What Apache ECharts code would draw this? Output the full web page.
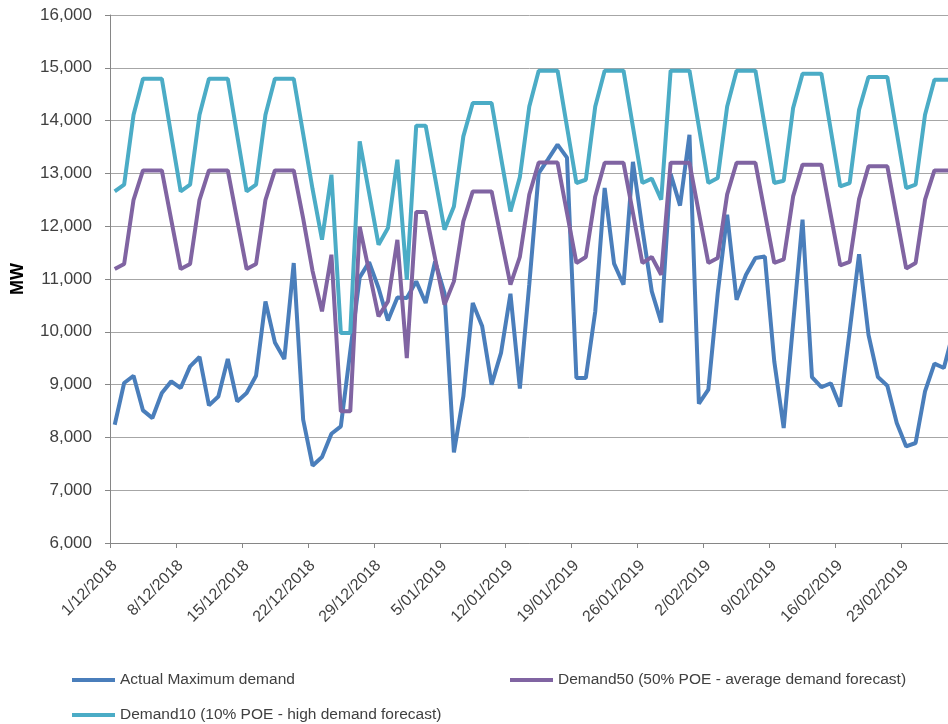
<!DOCTYPE html>
<html>
<head>
<meta charset="utf-8">
<script src="https://cdn.jsdelivr.net/npm/echarts@6/dist/echarts.min.js"></script>
<style>
  html, body { margin: 0; padding: 0; background: #ffffff; }
  #chart { width: 948px; height: 724px; }
</style>
</head>
<body>
<div id="chart"></div>
<script>
const categories = [
  "1/12/2018","2/12/2018","3/12/2018","4/12/2018","5/12/2018","6/12/2018","7/12/2018","8/12/2018","9/12/2018","10/12/2018",
  "11/12/2018","12/12/2018","13/12/2018","14/12/2018","15/12/2018","16/12/2018","17/12/2018","18/12/2018","19/12/2018","20/12/2018",
  "21/12/2018","22/12/2018","23/12/2018","24/12/2018","25/12/2018","26/12/2018","27/12/2018","28/12/2018","29/12/2018","30/12/2018",
  "31/12/2018","1/01/2019","2/01/2019","3/01/2019","4/01/2019","5/01/2019","6/01/2019","7/01/2019","8/01/2019","9/01/2019",
  "10/01/2019","11/01/2019","12/01/2019","13/01/2019","14/01/2019","15/01/2019","16/01/2019","17/01/2019","18/01/2019","19/01/2019",
  "20/01/2019","21/01/2019","22/01/2019","23/01/2019","24/01/2019","25/01/2019","26/01/2019","27/01/2019","28/01/2019","29/01/2019",
  "30/01/2019","31/01/2019","1/02/2019","2/02/2019","3/02/2019","4/02/2019","5/02/2019","6/02/2019","7/02/2019","8/02/2019",
  "9/02/2019","10/02/2019","11/02/2019","12/02/2019","13/02/2019","14/02/2019","15/02/2019","16/02/2019","17/02/2019","18/02/2019",
  "19/02/2019","20/02/2019","21/02/2019","22/02/2019","23/02/2019","24/02/2019","25/02/2019","26/02/2019","27/02/2019","28/02/2019"
];

const actualMaxDemand = [
  8240, 9030, 9168, 8511, 8366, 8840, 9061, 8935, 9345, 9523,
  8606, 8776, 9485, 8682, 8840, 9168, 10576, 9799, 9485, 11303,
  8335, 7464, 7629, 8070, 8209, 9630, 11030, 11320, 10830, 10216,
  10651, 10640, 10955, 10545, 11333, 10735, 7716, 8776, 10545, 10103,
  9000, 9600, 10720, 8925, 10900, 13007, 13272, 13544, 13300, 9125,
  9125, 10386, 12723, 11290, 10892, 13220, 11950, 10766, 10178, 12990,
  12390, 13733, 8638, 8903, 10735, 12218, 10608, 11081, 11398, 11425,
  9440, 8178, 10150, 12123, 9140, 8950, 9025, 8587, 10008, 11470,
  9945, 9144, 8979, 8272, 7829, 7894, 8871, 9396, 9314, 10000
];

const demand50 = [
  11189, 11284, 12500, 13057, 13057, 13057, 12120, 11189, 11284, 12500,
  13057, 13057, 13057, 12120, 11189, 11284, 12500, 13057, 13057, 13057,
  12150, 11150, 10386, 11460, 8493, 8493, 11990, 11140, 10292, 10576,
  11742, 9503, 12269, 12269, 11391, 10513, 10955, 12091, 12659, 12659,
  12659, 11775, 10892, 11420, 12600, 13205, 13205, 13205, 12252, 11304,
  11417, 12564, 13201, 13201, 13201, 12252, 11304, 11417, 11081, 13201,
  13201, 13201, 12252, 11304, 11398, 12602, 13201, 13201, 13201, 12252,
  11304, 11370, 12564, 13165, 13165, 13165, 12211, 11258, 11325, 12515,
  13134, 13134, 13134, 12166, 11199, 11304, 12502, 13057, 13057, 13057
];

const demand10 = [
  12659, 12786, 14110, 14792, 14792, 14792, 13720, 12659, 12786, 14110,
  14792, 14792, 14792, 13720, 12659, 12786, 14110, 14792, 14792, 14792,
  13750, 12700, 11744, 12975, 9977, 9977, 13606, 12630, 11650, 11966,
  13260, 10985, 13903, 13903, 12920, 11934, 12375, 13701, 14333, 14333,
  14333, 13300, 12280, 12930, 14269, 14945, 14945, 14945, 13880, 12818,
  12880, 14269, 14945, 14945, 14945, 13880, 12818, 12900, 12502, 14945,
  14945, 14945, 13880, 12818, 12913, 14269, 14945, 14945, 14945, 13880,
  12818, 12862, 14238, 14889, 14889, 14889, 13820, 12754, 12818, 14206,
  14826, 14826, 14826, 13775, 12723, 12786, 14110, 14775, 14775, 14775
];

const seriesNames = [
  "Actual Maximum demand",
  "Demand50 (50% POE - average demand forecast)",
  "Demand10 (10% POE - high demand forecast)"
];
const seriesColors = ["#4a7ebb", "#8064a2", "#4bacc6"];

const FONT = "'Liberation Sans', Arial, sans-serif";
const chart = echarts.init(document.getElementById('chart'), null, { renderer: 'canvas' });

const legendBase = {
  padding: 0,
  icon: 'rect',
  itemWidth: 43,
  itemHeight: 4,
  itemGap: 0,
  selectedMode: false,
  textStyle: { fontFamily: FONT, fontSize: 15.5, color: '#404040' }
};

chart.setOption({
  animation: false,
  backgroundColor: '#ffffff',
  color: seriesColors,
  grid: {
    left: 110, top: 15, width: 848, height: 528,
    containLabel: false,
    outerBoundsMode: 'none'
  },
  legend: [
    Object.assign({}, legendBase, { data: [seriesNames[0]], left: 72, top: 672 }),
    Object.assign({}, legendBase, { data: [seriesNames[1]], left: 510, top: 672 }),
    Object.assign({}, legendBase, { data: [seriesNames[2]], left: 72, top: 707 })
  ],
  xAxis: {
    type: 'category',
    data: categories,
    boundaryGap: true,
    axisLine: { show: true, lineStyle: { color: '#868686', width: 1 } },
    axisTick: { show: true, interval: 6, length: 5, inside: false, lineStyle: { color: '#868686' } },
    axisLabel: {
      interval: 6, rotate: 45, fontSize: 16, fontFamily: FONT, color: '#404040',
      margin: 20, padding: [16, 0, 0, 0], hideOverlap: false
    },
    splitLine: { show: false }
  },
  yAxis: {
    type: 'value',
    min: 6000, max: 16000, interval: 1000,
    name: 'MW',
    nameLocation: 'middle',
    nameGap: 83,
    nameTextStyle: { fontFamily: FONT, fontSize: 18, fontWeight: 'bold', color: '#000000' },
    axisLine: { show: true, lineStyle: { color: '#868686', width: 1 } },
    axisTick: { show: true, length: 5, inside: false, lineStyle: { color: '#868686' } },
    axisLabel: {
      fontSize: 17, fontFamily: FONT, color: '#404040', margin: 18,
      formatter: function (v) { return v.toLocaleString('en-US'); }
    },
    splitLine: { show: true, lineStyle: { color: '#a6a6a6', width: 1 } }
  },
  series: [
    { name: seriesNames[0], type: 'line', data: actualMaxDemand, symbol: 'none', smooth: false,
      lineStyle: { width: 4, color: seriesColors[0] }, itemStyle: { color: seriesColors[0] } },
    { name: seriesNames[1], type: 'line', data: demand50, symbol: 'none', smooth: false,
      lineStyle: { width: 4, color: seriesColors[1] }, itemStyle: { color: seriesColors[1] } },
    { name: seriesNames[2], type: 'line', data: demand10, symbol: 'none', smooth: false,
      lineStyle: { width: 4, color: seriesColors[2] }, itemStyle: { color: seriesColors[2] } }
  ]
});
</script>
</body>
</html>
